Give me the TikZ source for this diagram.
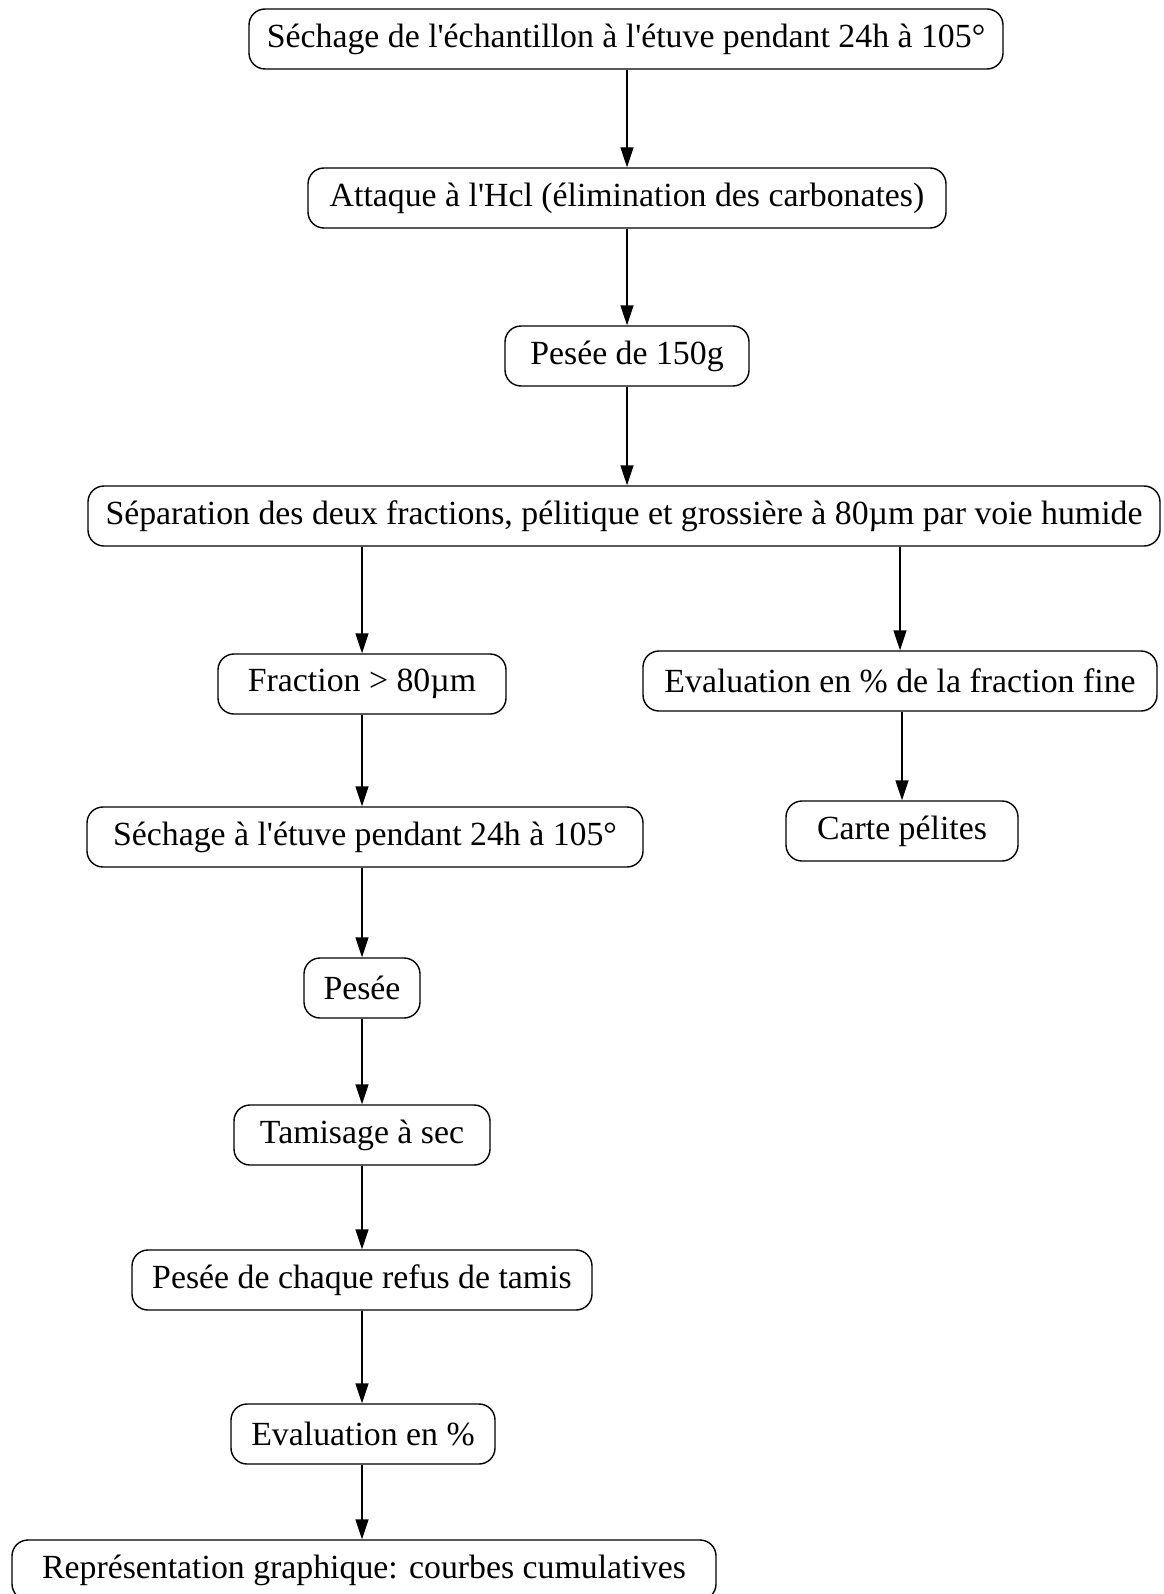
\documentclass[tikz,border=0pt]{standalone}
\usepackage{fontspec}
\setmainfont{Liberation Serif}
\usetikzlibrary{arrows.meta}
\tikzset{
  boite/.style={draw,rounded corners=8pt,minimum height=30pt,inner sep=0pt,
    font=\fontsize{16.9pt}{20pt}\selectfont},
  fleche/.style={-{Triangle[length=10pt,width=6.5pt]},line width=0.7pt}
}
\newcommand{\boite}[4]{\node[boite,minimum width=#3] (#1) at (#2) {#4};}
\newcommand{\apos}{\textquotesingle}

\begin{document}
\begin{tikzpicture}[x=0.5pt,y=-0.5pt,line width=0.7pt]
    \useasboundingbox (0,0) rectangle (1163,1594);
    \pgfmathsetmacro{\xc}{627};
    \pgfmathsetmacro{\xg}{362};
    \pgfmathsetmacro{\xd}{900};
    \boite{sech}{\xc-1,39}{377pt}{Séchage de l\apos échantillon à l\apos étuve pendant 24h à 105°};
    \boite{hcl}{\xc,198}{319pt}{Attaque à l\apos Hcl (élimination des carbonates)};
    \boite{p150}{\xc,356}{122pt}{Pesée de 150g};
    \boite{sep}{624,516}{536pt}{Séparation des deux fractions, pélitique et grossière à 80µm par voie humide};
    \boite{frac}{\xg,684}{144pt}{Fraction > 80µm};
    \boite{evfine}{\xd,681}{257pt}{Evaluation en \% de la fraction fine};
    \boite{carte}{\xd+2,831}{116pt}{Carte pélites};
    \boite{sech2}{365,837}{278pt}{Séchage à l\apos étuve pendant 24h à 105°};
    \boite{pes}{\xg,988}{58pt}{Pesée};
    \boite{tam}{\xg,1135}{128pt}{Tamisage à sec};
    \boite{pchaq}{\xg,1280}{230pt}{Pesée de chaque refus de tamis};
    \boite{evpc}{\xg+1,1434}{132pt}{Evaluation en \%};
    \boite{rep}{364,1570}{352pt}{Représentation graphique: courbes cumulatives};

    \draw[fleche] (sech.south -| hcl) -- (hcl.north);
    \draw[fleche] (hcl) -- (p150);
    \draw[fleche] (p150.south) -- (sep.north -| p150);
    \draw[fleche] (sep.south -| frac) -- (frac.north);
    \draw[fleche] (sep.south -| evfine) -- (evfine.north);
    \draw[fleche] (evfine.south -| carte) -- (carte.north);
    \draw[fleche] (frac.south) -- (sech2.north -| frac);
    \draw[fleche] (sech2.south -| pes) -- (pes.north);
    \draw[fleche] (pes) -- (tam);
    \draw[fleche] (tam) -- (pchaq);
    \draw[fleche] (pchaq.south) -- (evpc.north -| pchaq);
    \draw[fleche] (evpc.south -| pchaq) -- (rep.north -| pchaq);
\end{tikzpicture}
\end{document}
